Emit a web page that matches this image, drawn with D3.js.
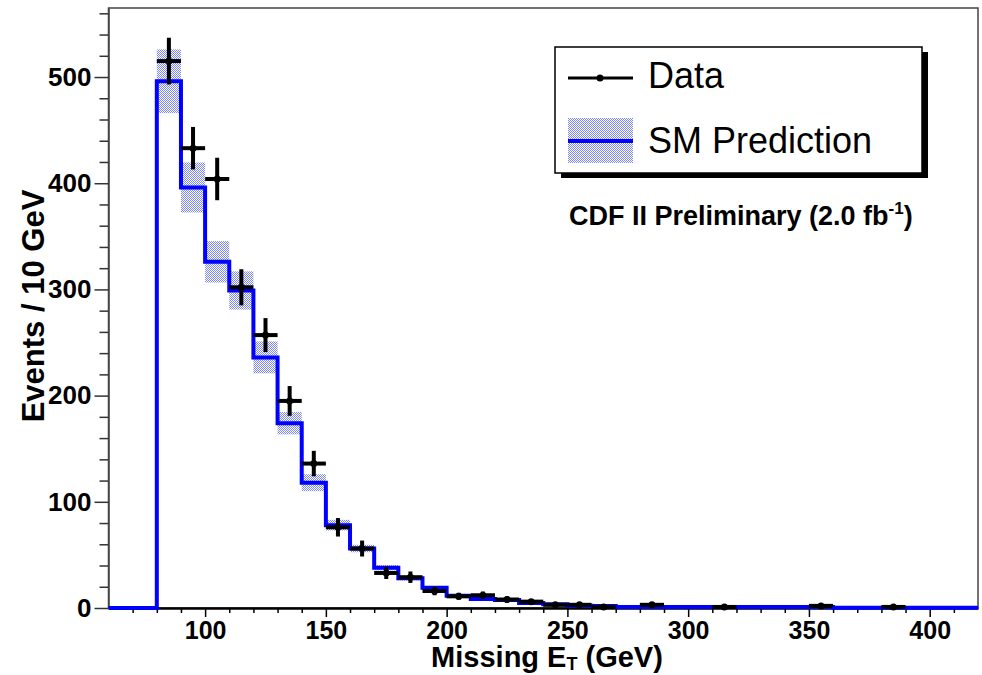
<!DOCTYPE html>
<html lang="en">

<head>
  <meta charset="utf-8">
  <title>Missing ET</title>
  <script src="https://cdn.jsdelivr.net/npm/d3@7/dist/d3.min.js"></script>
  <style>
    body { margin: 0; background: #fff; }
    text { font-family: "Liberation Sans", Arial, Helvetica, sans-serif; }
  </style>
</head>

<body>
  <script>
    // SM prediction, 10 GeV bins from 60 to 420
    var binLow = [60, 70, 80, 90, 100, 110, 120, 130, 140, 150, 160, 170, 180, 190, 200, 210, 220, 230,
                  240, 250, 260, 270, 280, 290, 300, 310, 320, 330, 340, 350, 360, 370, 380, 390, 400, 410];
    var smValue = [0, 0, 496, 396, 326, 299, 236, 174, 118, 78, 56, 38, 28, 19, 11.5, 8.5, 7.5, 4.8,
                   3.6, 2.2, 2, 1, 1, 1, 1, 1, 1, 1, 1, 1, 0.2, 0.2, 0.2, 0.2, 0.2, 0.2];
    var smError = [0, 0, 30, 23.5, 19.5, 18, 15, 10.5, 8, 5, 3.5, 2.5, 2, 1.5, 1, 0.8, 0.7, 0.5,
                   0.4, 0.3, 0.3, 0.2, 0.2, 0.2, 0.2, 0.2, 0.2, 0.2, 0.2, 0.2, 0.1, 0.1, 0.1, 0.1, 0.1, 0.1];

    // observed data (bin centres, counts, errors)
    var dataX = [85, 95, 105, 115, 125, 135, 145, 155, 165, 175, 185, 195, 205, 215, 225, 235, 245, 255, 265, 285, 315, 355, 385];
    var dataY = [515, 433, 404, 302, 257, 195, 136, 76, 56, 33, 29, 16, 11, 12, 8, 6, 3, 3, 1, 3, 1, 2, 1];
    var dataErr = [22, 20, 20, 17, 16, 14, 12, 8.7, 7.5, 5.7, 5.4, 4, 3.3, 3.5, 2.8, 2.4, 1.7, 1.7, 1, 1.7, 1, 1.4, 1];

    var xTicks = [100, 150, 200, 250, 300, 350, 400];
    var yTicks = [0, 100, 200, 300, 400, 500];

    var w = 982;
    var h = 675;
    var frame = { left: 108.5, right: 978, top: 8, bottom: 608 };

    var svg = d3.select("body").append("svg")
                .attr("width", w)
                .attr("height", h);

    var x = d3.scaleLinear()
              .domain([60, 420])
              .range([frame.left, frame.right]);
    var y = d3.scaleLinear()
              .domain([0, 565])
              .range([frame.bottom, frame.top]);

    // dotted fill like ROOT's hatch style
    var pat = svg.append("defs").append("pattern")
                 .attr("id", "dots")
                 .attr("patternUnits", "userSpaceOnUse")
                 .attr("width", 2)
                 .attr("height", 2);
    pat.append("rect").attr("x", 0).attr("y", 0).attr("width", 1).attr("height", 1)
       .attr("fill", "#2233ff").attr("fill-opacity", 0.6);
    pat.append("rect").attr("x", 1).attr("y", 1).attr("width", 1).attr("height", 1)
       .attr("fill", "#2233ff").attr("fill-opacity", 0.6);

    // frame
    svg.append("rect")
       .attr("x", frame.left)
       .attr("y", frame.top)
       .attr("width", frame.right - frame.left)
       .attr("height", frame.bottom - frame.top)
       .attr("fill", "none")
       .attr("stroke", "#444")
       .attr("stroke-width", 1.5);

    // axes
    var yMinor = d3.range(0, 561, 20).filter(function(v) { return v % 100 !== 0; });
    var xMinor = d3.range(70, 420, 10).filter(function(v) { return v % 50 !== 0; });

    var yAxis = svg.append("g")
                   .attr("transform", "translate(" + frame.left + ",0)");
    yAxis.append("g")
         .call(d3.axisLeft(y).tickValues(yMinor).tickSize(9).tickFormat(""))
         .call(function(g) { g.select(".domain").remove(); });
    yAxis.append("g")
         .call(d3.axisLeft(y).tickValues(yTicks).tickSize(14).tickPadding(3).tickSizeOuter(0))
         .call(function(g) {
           g.select(".domain").attr("stroke", "#444").attr("stroke-width", 1.5);
           g.selectAll("text")
            .attr("font-size", 26)
            .attr("font-weight", "bold")
            .attr("fill", "#000");
         });
    yAxis.selectAll("line").attr("stroke", "#333").attr("stroke-width", 1.5);

    var xAxis = svg.append("g")
                   .attr("transform", "translate(0," + frame.bottom + ")");
    xAxis.append("g")
         .call(d3.axisBottom(x).tickValues(xMinor).tickSize(5).tickFormat(""))
         .call(function(g) { g.select(".domain").remove(); });
    xAxis.append("g")
         .call(d3.axisBottom(x).tickValues(xTicks).tickSize(9).tickPadding(4).tickSizeOuter(0))
         .call(function(g) {
           g.select(".domain").attr("stroke", "#000").attr("stroke-width", 2.5);
           g.selectAll("text")
            .attr("font-size", 25)
            .attr("font-weight", "bold")
            .attr("fill", "#000");
         });
    xAxis.selectAll(".tick line").attr("stroke", "#000").attr("stroke-width", 1.5);

    // SM uncertainty band
    svg.append("g")
       .selectAll(".band")
       .data(binLow)
       .enter()
         .append("rect")
         .classed("band", true)
         .attr("x", function(d) { return x(d); })
         .attr("width", function(d) { return x(d + 10) - x(d); })
         .attr("y", function(d, i) { return y(smValue[i] + smError[i]); })
         .attr("height", function(d, i) { return y(smValue[i] - smError[i]) - y(smValue[i] + smError[i]); })
         .attr("fill", "url(#dots)");

    // SM histogram
    var stepPts = binLow.map(function(d, i) { return [d, smValue[i]]; });
    stepPts.push([420, smValue[smValue.length - 1]]);
    var step = d3.line()
                 .x(function(d) { return x(d[0]); })
                 .y(function(d) { return y(d[1]); })
                 .curve(d3.curveStepAfter);
    svg.append("path")
       .datum(stepPts)
       .attr("d", step)
       .attr("fill", "none")
       .attr("stroke", "#0000ff")
       .attr("stroke-width", 4);

    // data points
    var pts = svg.append("g")
                 .selectAll(".point")
                 .data(dataX)
                 .enter()
                   .append("g")
                   .classed("point", true);
    pts.append("line")
       .attr("x1", function(d) { return x(d - 5); })
       .attr("x2", function(d) { return x(d + 5); })
       .attr("y1", function(d, i) { return y(dataY[i]); })
       .attr("y2", function(d, i) { return y(dataY[i]); })
       .attr("stroke", "#000")
       .attr("stroke-width", 4);
    pts.append("line")
       .attr("x1", function(d) { return x(d); })
       .attr("x2", function(d) { return x(d); })
       .attr("y1", function(d, i) { return y(dataY[i] + dataErr[i]); })
       .attr("y2", function(d, i) { return y(dataY[i] - dataErr[i]); })
       .attr("stroke", "#000")
       .attr("stroke-width", 4);
    pts.append("circle")
       .attr("cx", function(d) { return x(d); })
       .attr("cy", function(d, i) { return y(dataY[i]); })
       .attr("r", 3.5)
       .attr("fill", "#000");

    // axis titles
    svg.append("text")
       .attr("transform", "translate(44,306) rotate(-90)")
       .attr("text-anchor", "middle")
       .attr("font-size", 31)
       .attr("font-weight", "bold")
       .text("Events / 10 GeV");

    var xt = svg.append("text")
                .attr("x", 547)
                .attr("y", 667)
                .attr("text-anchor", "middle")
                .attr("font-size", 29)
                .attr("font-weight", "bold");
    xt.append("tspan").text("Missing E");
    xt.append("tspan").attr("font-size", 18).attr("dy", 3).text("T");
    xt.append("tspan").attr("dy", -3).text(" (GeV)");

    // legend
    var lg = svg.append("g");
    lg.append("rect")
      .attr("x", 561).attr("y", 52).attr("width", 367).attr("height", 126)
      .attr("fill", "#000");
    lg.append("rect")
      .attr("x", 555).attr("y", 47).attr("width", 367).attr("height", 126)
      .attr("fill", "#fff")
      .attr("stroke", "#000")
      .attr("stroke-width", 1.5);
    lg.append("line")
      .attr("x1", 568).attr("x2", 633).attr("y1", 78).attr("y2", 78)
      .attr("stroke", "#000").attr("stroke-width", 3);
    lg.append("circle")
      .attr("cx", 600).attr("cy", 78).attr("r", 3.5).attr("fill", "#000");
    lg.append("text")
      .attr("x", 648).attr("y", 88)
      .attr("font-size", 36)
      .text("Data");
    lg.append("rect")
      .attr("x", 568).attr("y", 118).attr("width", 65).attr("height", 45)
      .attr("fill", "url(#dots)");
    lg.append("line")
      .attr("x1", 568).attr("x2", 633).attr("y1", 141).attr("y2", 141)
      .attr("stroke", "#0000ff").attr("stroke-width", 4);
    lg.append("text")
      .attr("x", 648).attr("y", 153)
      .attr("font-size", 36)
      .text("SM Prediction");

    var cdf = svg.append("text")
                 .attr("x", 569)
                 .attr("y", 225)
                 .attr("font-size", 27)
                 .attr("font-weight", "bold");
    cdf.append("tspan").text("CDF II Preliminary (2.0 fb");
    cdf.append("tspan").attr("font-size", 17).attr("dy", -11).text("-1");
    cdf.append("tspan").attr("dy", 11).text(")");
  </script>
</body>

</html>
